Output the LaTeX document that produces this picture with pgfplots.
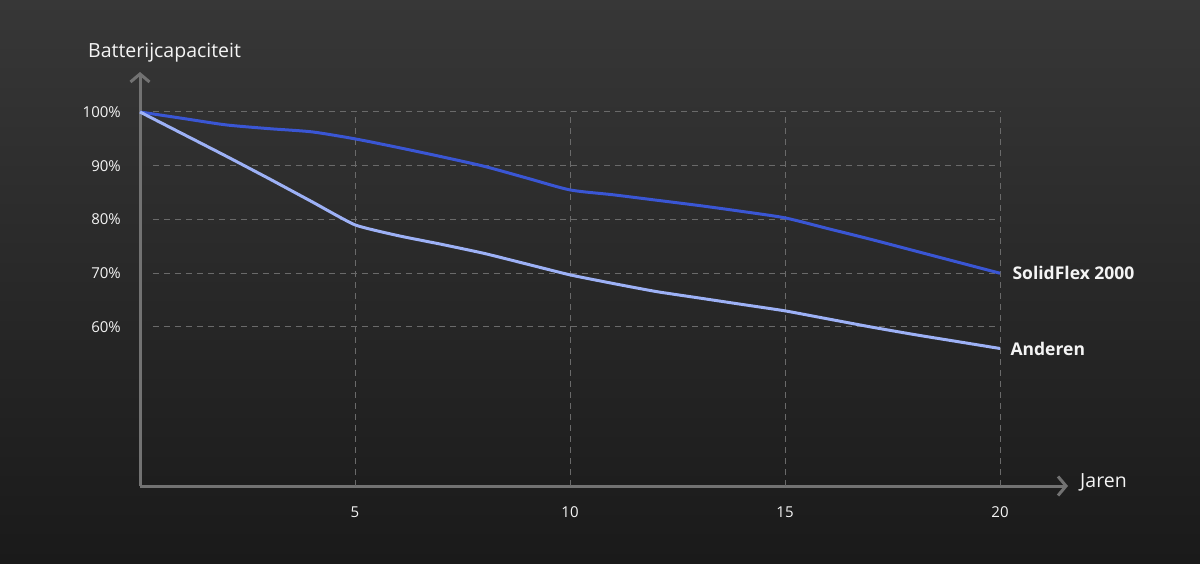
\documentclass[border=0pt]{standalone}
\usepackage{pgfplots}
\pgfplotsset{compat=1.18}
\usepackage{fontspec}
\setmainfont{Open Sans}
\usetikzlibrary{arrows.meta}
\definecolor{bgtop}{HTML}{373737}
\definecolor{bgbot}{HTML}{1A1A1A}
\definecolor{axgray}{HTML}{727272}
\definecolor{gridgray}{HTML}{6A6A6A}
\definecolor{sfblue}{HTML}{3A56D4}
\definecolor{othblue}{HTML}{9DB1F6}
\definecolor{txt}{HTML}{F4F4F4}
\begin{document}
\begin{tikzpicture}[x=1pt,y=1pt]
\shade[top color=bgtop,bottom color=bgbot] (0,0) rectangle (1200,563);
\begin{axis}[
  at={(140pt,77pt)}, anchor=south west, scale only axis,
  width=928pt, height=414pt,
  xmin=0, xmax=21.58, ymin=30.42, ymax=107.44,
  axis lines=left,
  axis line style={draw=axgray, line width=3pt, -{Straight Barb[length=8pt,width=19pt,line width=3pt]}},
  clip=false,
  xtick={5,10,15,20}, ytick={60,70,80,90,100},
  yticklabel={\pgfmathprintnumber{\tick}\%},
  major tick length=0pt,
  tick label style={text=txt, font=\fontsize{15}{17}\selectfont},
  xticklabel style={anchor=center, yshift=-26pt},
  yticklabel style={anchor=east, inner sep=0pt, xshift=-19pt},
  /pgf/number format/assume math mode=true,
]
\foreach \yy in {60,70,80,90,100} {
  \edef\tmp{\noexpand\draw[gridgray, line width=1pt, dash pattern=on 6pt off 5pt] (axis cs:0.3,\yy) -- (axis cs:20,\yy);}
  \tmp
}
\foreach \xx in {5,10,15,20} {
  \edef\tmp{\noexpand\draw[gridgray, line width=1pt, dash pattern=on 6pt off 5pt] (axis cs:\xx,30.42) -- (axis cs:\xx,100);}
  \tmp
}
\addplot[sfblue, line width=3pt, smooth, tension=0.4] coordinates {
(0,100) (1,98.8) (2,97.6) (3,96.9) (4,96.3) (5,95.0) (6,93.4) (7,91.7) (8,89.9) (9,87.7) (10,85.5)
(11,84.6) (12,83.6) (13,82.6) (14,81.5) (15,80.3) (16,78.3) (17,76.3) (18,74.2) (19,72.1) (20,70.0)
};
\addplot[othblue, line width=3pt, smooth, tension=0.3] coordinates {
(0,100) (1,95.9) (2,91.8) (3,87.6) (4,83.3) (5,79.0) (6,77.0) (7,75.4) (8,73.7) (9,71.7) (10,69.7)
(11,68.1) (12,66.6) (13,65.4) (14,64.2) (15,63.0) (16,61.5) (17,60.0) (18,58.6) (19,57.3) (20,56.0)
};
\node[anchor=west, text=txt, font=\fontsize{17.5}{20}\selectfont\bfseries] at (axis cs:20,70) [xshift=9pt] {SolidFlex 2000};
\node[anchor=west, text=txt, font=\fontsize{17.5}{20}\selectfont\bfseries] at (axis cs:20,56) [xshift=7pt] {Anderen};
\end{axis}
\node[anchor=west, text=txt, font=\fontsize{19.5}{22}\selectfont, inner sep=0pt] at (88,510) {Batterijcapaciteit};
\node[anchor=west, text=txt, font=\fontsize{19.5}{22}\selectfont, inner sep=0pt] at (1080,81) {Jaren};
\end{tikzpicture}
\end{document}
